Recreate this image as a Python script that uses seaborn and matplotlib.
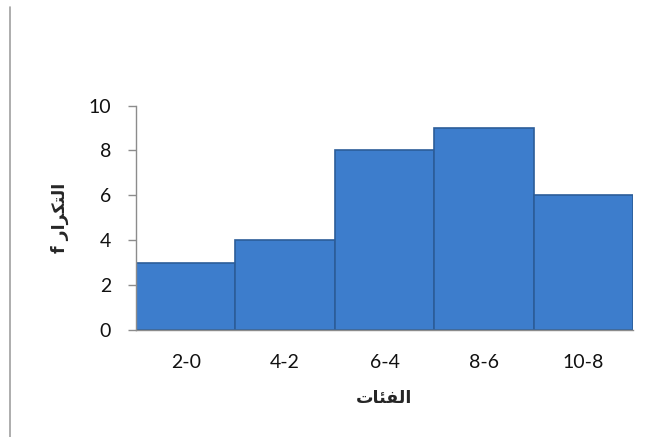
import matplotlib
matplotlib.use("Agg")
import matplotlib.pyplot as plt
from matplotlib.lines import Line2D
import seaborn as sns
import pandas as pd

# classes (الفئات) and frequencies (التكرار)
classes = ["2-0", "4-2", "6-4", "8-6", "10-8"]
freq = [3, 4, 8, 9, 6]
y_ticks = [0, 2, 4, 6, 8, 10]

# Arabic labels written in presentation forms, visual order (no shaping engine in matplotlib)
x_label = "\uFE95\uFE8E\uFE8C\uFED4\uFEDF\uFE8D"                 # الفئات
y_label = "f " + "\uFEAD\uFE8D\uFEAE\uFEDC\uFE98\uFEDF\uFE8D"    # التكرار f

df = pd.DataFrame({"class": classes, "f": freq})

sns.set_style("white")
plt.rcParams["font.family"] = ["Lato", "DejaVu Sans"]

fig = plt.figure(figsize=(6.49, 4.37), dpi=100)
ax = fig.add_axes([0.2096, 0.2449, 0.7658, 0.5135])

sns.barplot(data=df, x="class", y="f", order=classes, width=1.0,
            color="#3d7dcc", saturation=1, edgecolor="#2c5d99", linewidth=1.2, ax=ax)

ax.set_ylim(0, 10)
ax.set_yticks(y_ticks)
ax.set_xlim(-0.5, len(classes) - 0.5)

for s in ["top", "right"]:
    ax.spines[s].set_visible(False)
for s in ["left", "bottom"]:
    ax.spines[s].set_color("#8c8c8c")
    ax.spines[s].set_linewidth(1)

ax.tick_params(axis="y", which="major", left=True, length=6, width=1, color="#8c8c8c",
               pad=12, labelsize=14, labelcolor="#111111")
ax.tick_params(axis="x", bottom=False, pad=14, labelsize=14, labelcolor="#111111")

ax.set_xlabel(x_label, fontsize=12.5, fontweight="bold", family=["DejaVu Sans"], labelpad=13)
ax.set_ylabel(y_label, fontsize=12.5, fontweight="bold", family=["DejaVu Sans"], labelpad=14)

fig.add_artist(Line2D([0.0154, 0.0154], [0.0, 0.984], color="#a0a0a0", linewidth=1.2))

fig.savefig("out.png", dpi=100, facecolor="white")
